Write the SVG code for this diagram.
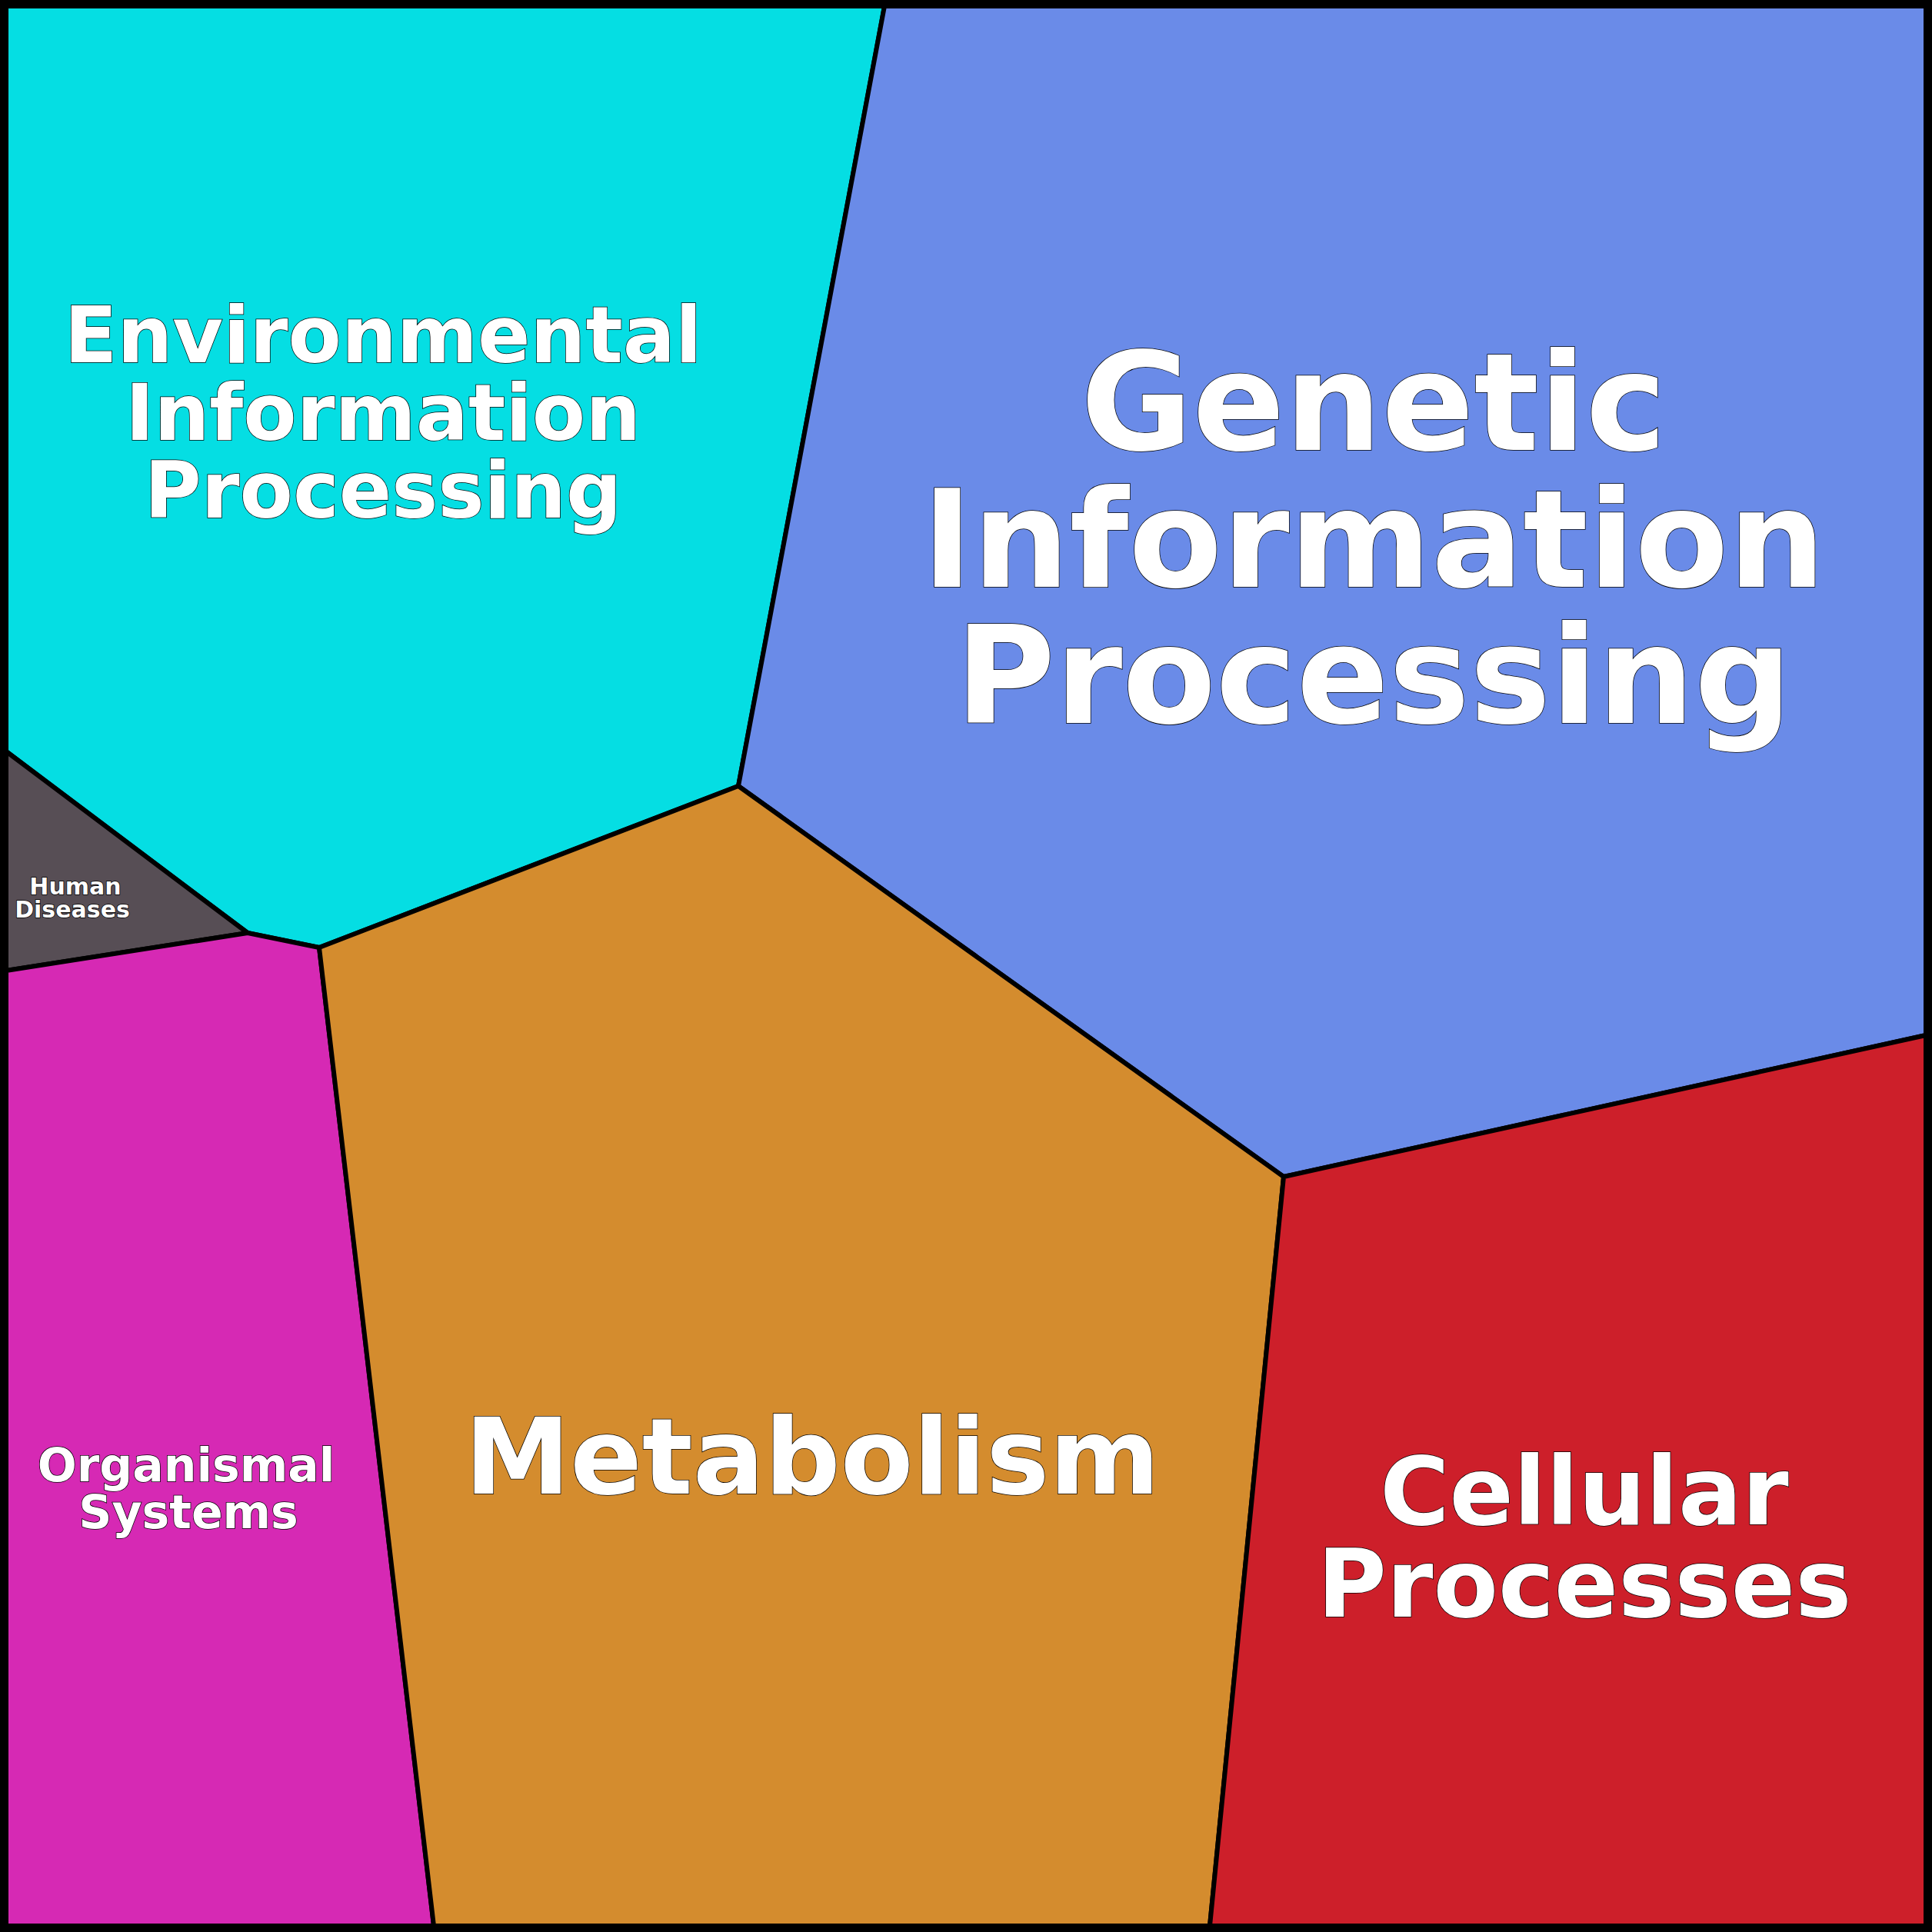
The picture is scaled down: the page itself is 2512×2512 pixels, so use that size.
<svg xmlns="http://www.w3.org/2000/svg" width="2512" height="2512" viewBox="0 0 2512 2512">
<style>
.r{stroke:#000;stroke-width:6;stroke-linejoin:round}
.t{font-family:"DejaVu Sans",sans-serif;font-weight:bold;fill:#fff;stroke:#000;stroke-width:1.5;paint-order:stroke;text-anchor:middle}
</style>
<g id="env"><polygon class="r" fill="#05DEE3" points="8,8 1150,8 960,1022 415,1232 322,1213 8,977"/>
<text class="t" font-size="101"><tspan x="498" y="471">Environmental</tspan><tspan x="498" y="572">Information</tspan><tspan x="498" y="673">Processing</tspan></text></g>
<g id="gen"><polygon class="r" fill="#6A8BE8" points="1150,8 2504,8 2504,1346 1669,1530 960,1022"/>
<text class="t" font-size="177"><tspan x="1786" y="585">Genetic</tspan><tspan x="1786" y="763">Information</tspan><tspan x="1786" y="940">Processing</tspan></text></g>
<g id="hum"><polygon class="r" fill="#574E55" points="8,977 322,1213 8,1262"/>
<text class="t" font-size="30"><tspan x="98" y="1163">Human</tspan><tspan x="94" y="1193">Diseases</tspan></text></g>
<g id="org"><polygon class="r" fill="#D629B4" points="8,1262 322,1213 415,1232 564,2504 8,2504"/>
<text class="t" font-size="60"><tspan x="242" y="1926">Organismal</tspan><tspan x="245" y="1987">Systems</tspan></text></g>
<g id="met"><polygon class="r" fill="#D48C2E" points="415,1232 960,1022 1669,1530 1573,2504 564,2504"/>
<text class="t" font-size="138" x="1056" y="1942">Metabolism</text></g>
<g id="cel"><polygon class="r" fill="#CD1F2A" points="1669,1530 2504,1346 2504,2504 1573,2504"/>
<text class="t" font-size="123"><tspan x="2060" y="1982">Cellular</tspan><tspan x="2060" y="2102">Processes</tspan></text></g>
<g id="connectors"><rect x="5" y="5" width="2502" height="2502" fill="none" stroke="#000" stroke-width="10"/></g>
</svg>
